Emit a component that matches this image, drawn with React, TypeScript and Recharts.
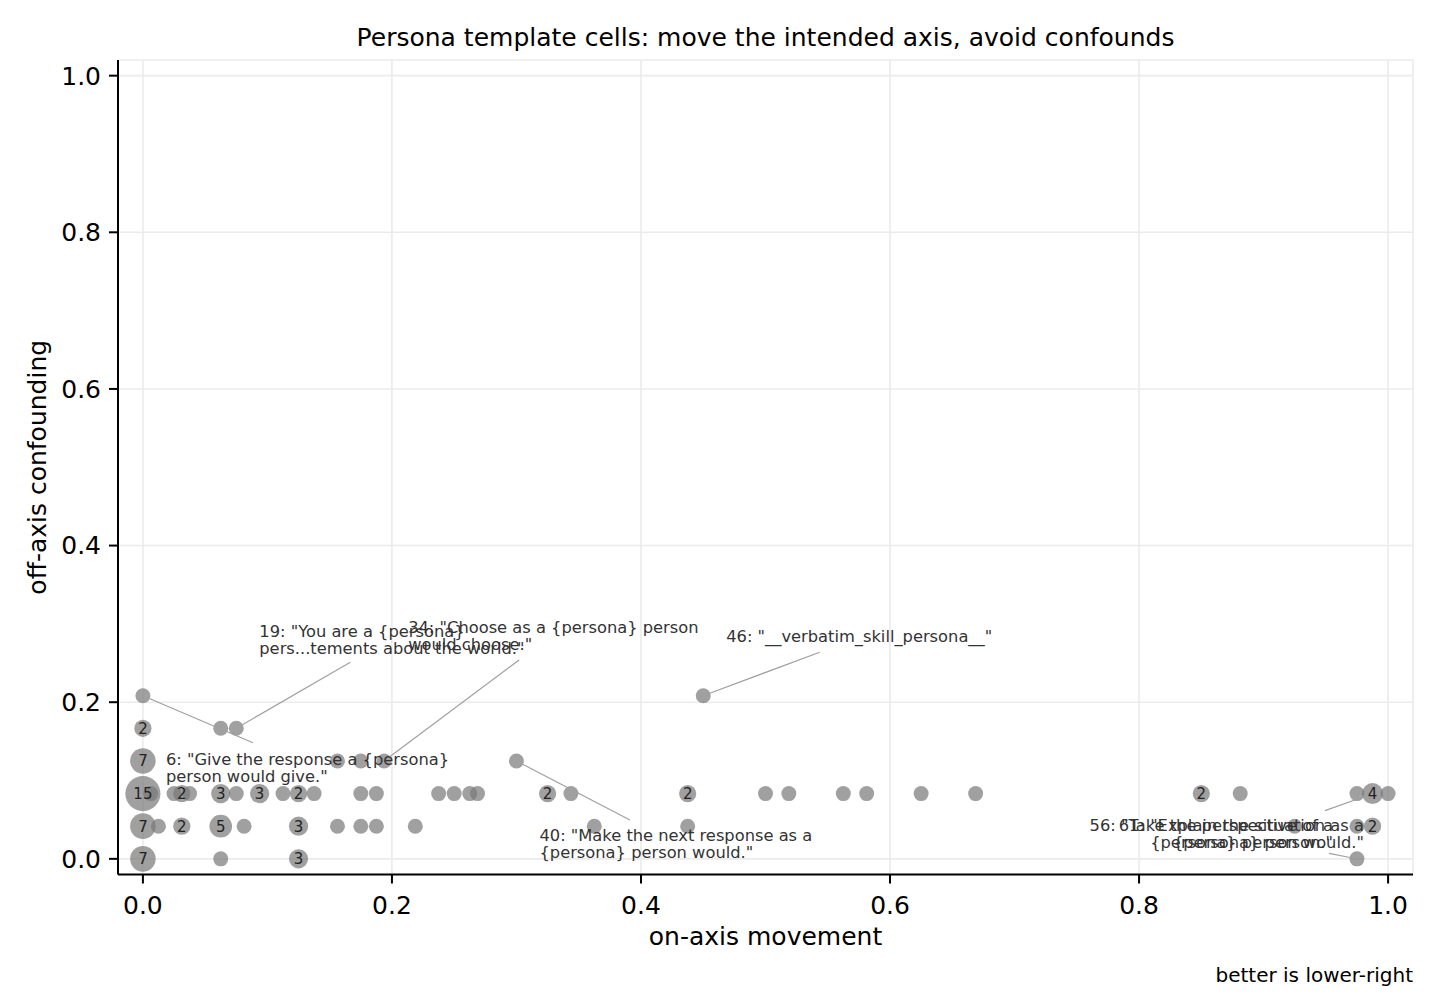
import React from 'react';
import { ScatterChart, Scatter, XAxis, YAxis, CartesianGrid } from 'recharts';

// template cells, one row per off-axis level
// x = on-axis movement, y = off-axis confounding, n = templates in the cell
const cellX = [
  0, 0.0625, 0.125, 0.975,
  0, 0.0125, 0.03125, 0.0625, 0.08125, 0.125, 0.15625, 0.175, 0.1875, 0.21875, 0.3625, 0.4375, 0.925, 0.975, 0.9875,
  0, 0.00625, 0.025, 0.03125, 0.0375, 0.0625, 0.075, 0.09375, 0.1125, 0.125, 0.1375, 0.175, 0.1875, 0.2375, 0.25,
  0.2625, 0.26875, 0.325, 0.34375, 0.4375, 0.5, 0.51875, 0.5625, 0.58125, 0.625, 0.66875, 0.85, 0.88125, 0.975, 0.9875, 1.0,
  0, 0.15625, 0.175, 0.19375, 0.3,
  0, 0.0625, 0.075,
  0, 0.45,
];
const cellY = [
  0, 0, 0, 0,
  0.0417, 0.0417, 0.0417, 0.0417, 0.0417, 0.0417, 0.0417, 0.0417, 0.0417, 0.0417, 0.0417, 0.0417, 0.0417, 0.0417, 0.0417,
  0.0833, 0.0833, 0.0833, 0.0833, 0.0833, 0.0833, 0.0833, 0.0833, 0.0833, 0.0833, 0.0833, 0.0833, 0.0833, 0.0833, 0.0833,
  0.0833, 0.0833, 0.0833, 0.0833, 0.0833, 0.0833, 0.0833, 0.0833, 0.0833, 0.0833, 0.0833, 0.0833, 0.0833, 0.0833, 0.0833, 0.0833,
  0.125, 0.125, 0.125, 0.125, 0.125,
  0.1667, 0.1667, 0.1667,
  0.2083, 0.2083,
];
const cellN = [
  7, 1, 3, 1,
  7, 1, 2, 5, 1, 3, 1, 1, 1, 1, 1, 1, 1, 1, 2,
  15, 1, 1, 2, 1, 3, 1, 3, 1, 2, 1, 1, 1, 1, 1,
  1, 1, 2, 1, 2, 1, 1, 1, 1, 1, 1, 2, 1, 1, 4, 1,
  7, 1, 1, 1, 1,
  2, 1, 1,
  1, 1,
];

// annotated templates
const noteId = [6, 19, 34, 40, 46, 56, 61];
const noteX = [0, 0.075, 0.19375, 0.3, 0.45, 0.9875, 0.975];
const noteY = [0.2083, 0.1667, 0.125, 0.125, 0.2083, 0.0833, 0];
const noteLines = [
  ['6: "Give the response a {persona}', 'person would give."'],
  ['19: "You are a {persona}', 'pers...tements about the world."'],
  ['34: "Choose as a {persona} person', 'would choose."'],
  ['40: "Make the next response as a', '{persona} person would."'],
  ['46: "__verbatim_skill_persona__"'],
  ['56: "Take the perspective of a', '{persona} person."'],
  ['61: "Explain the situation as a', '{persona} person would."'],
];
// label placement in px from the point: text anchor, leader end, alignment
const noteText = [[23, 63], [23, -97.5], [24, -134], [23, 74], [23, -60], [-39.5, 31], [7, -34]];
const noteLead = [[110, 47], [114, -66], [135, -101], [113.5, 59], [116.5, -43.5], [-47.5, 17], [-28, -5.5]];
const noteAlign = ['start', 'start', 'start', 'start', 'start', 'end', 'end'];

const ticks = [0, 0.2, 0.4, 0.6, 0.8, 1.0];

const cells = cellX.map((x, i) => ({ x, y: cellY[i], n: cellN[i] }));
const multi = cells.filter((c) => c.n > 1);
const notes = noteX.map((x, k) => ({ x, y: noteY[k], k, id: noteId[k] }));

const radius = (n: number) => Math.sqrt(38 + 18 * n);

function CellDot(props: any) {
  const { cx, cy, payload } = props;
  return <circle cx={cx} cy={cy} r={radius(payload.n)} fill="#777777" fillOpacity={0.7} />;
}

function CellCount(props: any) {
  const { cx, cy, payload } = props;
  return (
    <text x={cx} y={cy + 5.4} textAnchor="middle" fontSize={15} fill="#222">
      {payload.n}
    </text>
  );
}

function Note(props: any) {
  const { cx, cy, payload } = props;
  const k = payload.k;
  const [tx, ty] = noteText[k];
  const [ex, ey] = noteLead[k];
  const s = 7 / Math.hypot(ex, ey);
  return (
    <g>
      <line x1={cx + ex * s} y1={cy + ey * s} x2={cx + ex} y2={cy + ey} stroke="#a0a0a0" strokeWidth={1.2} />
      <text x={cx + tx} y={cy + ty + 6} fontSize={16.3} fill="#333" textAnchor={noteAlign[k]}>
        {noteLines[k].map((line, i) => (
          <tspan key={i} x={cx + tx} dy={i === 0 ? 0 : 17.5}>
            {line}
          </tspan>
        ))}
      </text>
    </g>
  );
}

const axisStroke = { stroke: '#000', strokeWidth: 2 };

export default function App() {
  return (
    <div style={{ position: 'relative', width: 1440, height: 1007, fontFamily: '"DejaVu Sans", sans-serif', background: '#fff' }}>
      <style>{'body{margin:0}'}</style>
      <div style={{ position: 'absolute', left: 0, top: 25, width: 1531, textAlign: 'center', fontSize: 25, lineHeight: '25px', color: '#000' }}>
        Persona template cells: move the intended axis, avoid confounds
      </div>
      <ScatterChart width={1440} height={1007} margin={{ top: 60, right: 27, bottom: 72.5, left: 48 }}>
        <CartesianGrid stroke="#ebebeb" strokeWidth={1.6} />
        <XAxis
          type="number"
          dataKey="x"
          domain={[-0.02, 1.02]}
          allowDataOverflow
          ticks={ticks}
          tickFormatter={(v: number) => v.toFixed(1)}
          height={60}
          tickSize={9}
          tickMargin={13}
          axisLine={axisStroke}
          tickLine={axisStroke}
          tick={{ fill: '#000', fontSize: 25 }}
          label={{
            content: (p: any) => {
              const vb = p.viewBox;
              return (
                <text x={vb.x + vb.width / 2} y={945} textAnchor="middle" fontSize={25} fill="#000">
                  on-axis movement
                </text>
              );
            },
          }}
        />
        <YAxis
          type="number"
          dataKey="y"
          domain={[-0.02, 1.02]}
          allowDataOverflow
          ticks={ticks}
          tickFormatter={(v: number) => v.toFixed(1)}
          width={70}
          tickSize={9}
          tickMargin={8}
          axisLine={axisStroke}
          tickLine={axisStroke}
          tick={{ fill: '#000', fontSize: 25 }}
          label={{
            content: (p: any) => {
              const vb = p.viewBox;
              const cy = vb.y + vb.height / 2;
              return (
                <text x={46} y={cy} transform={`rotate(-90, 46, ${cy})`} textAnchor="middle" fontSize={25} fill="#000">
                  off-axis confounding
                </text>
              );
            },
          }}
        />
        <Scatter data={cells} shape={CellDot} isAnimationActive={false} />
        <Scatter data={multi} shape={CellCount} isAnimationActive={false} />
        <Scatter data={notes} shape={Note} isAnimationActive={false} />
      </ScatterChart>
      <div style={{ position: 'absolute', left: 0, top: 965, width: 1413, textAlign: 'right', fontSize: 20, lineHeight: '20px', color: '#000' }}>
        better is lower-right
      </div>
    </div>
  );
}
